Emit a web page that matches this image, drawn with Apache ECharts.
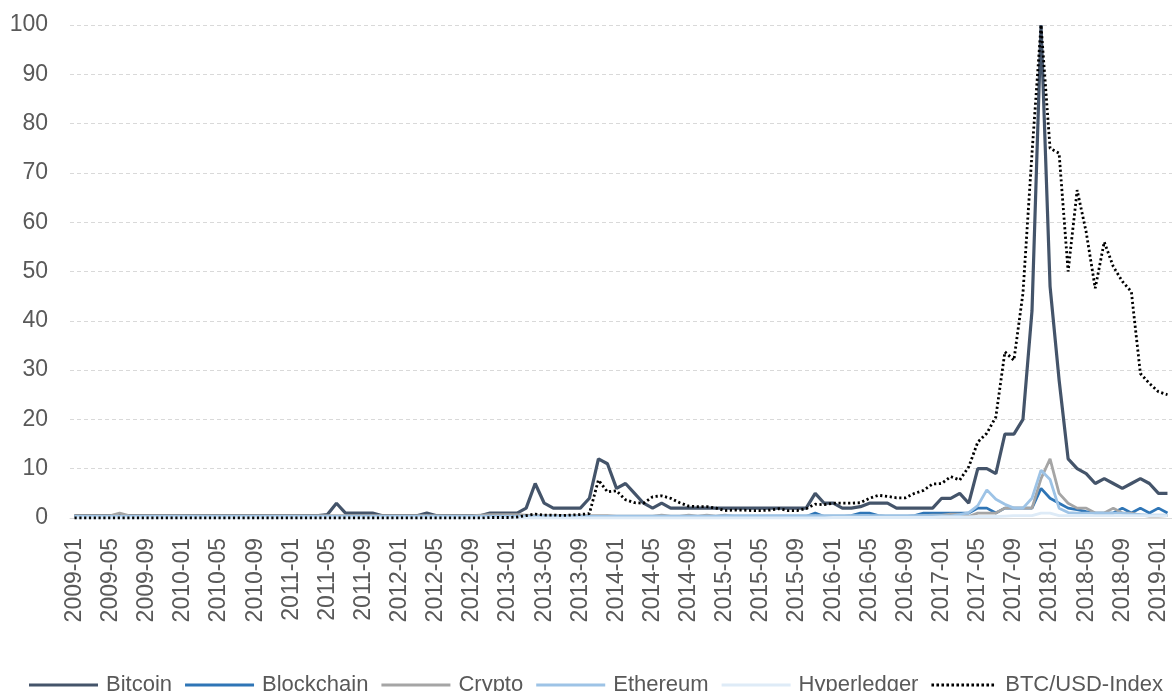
<!DOCTYPE html>
<html>
<head>
<meta charset="utf-8">
<script src="https://cdn.jsdelivr.net/npm/echarts@6/dist/echarts.min.js"></script>
<style>
html,body{margin:0;padding:0;background:#fff;}
#chart{width:1172px;height:691px;}
</style>
</head>
<body>
<div id="chart"></div>
<script>
// Months 2009-01 .. 2019-02 (122 categories)
const startYear = 2009, monthCount = 122;
const months = [];
for (let i = 0; i < monthCount; i++) {
  const y = startYear + Math.floor(i / 12), m = (i % 12) + 1;
  months.push(y + '-' + (m < 10 ? '0' + m : m));
}

const seriesNames = ['Bitcoin', 'Blockchain', 'Crypto', 'Ethereum', 'Hyperledger', 'BTC/USD-Index'];

const bitcoin = [
  0.5,0.5,0.5,0.5,0.5,0.5,0.5,0.5,0.5,0.5,0.5,0.5,   // 2009
  0.5,0.5,0.5,0.5,0.5,0.5,0.5,0.5,0.5,0.5,0.5,0.5,   // 2010
  0.5,0.5,0.5,0.5,0.7,3,1,1,1,1,0.5,0.5,             // 2011
  0.5,0.5,0.5,1,0.5,0.5,0.5,0.5,0.5,0.5,1,1,         // 2012
  1,1,2,7,3,2,2,2,2,4,12,11,                         // 2013
  6,7,5,3,2,3,2,2,2,2,2,2,                           // 2014
  2,2,2,2,2,2,2,2,2,2,5,3,                           // 2015
  3,2,2,2.3,3,3,3,2,2,2,2,2,                         // 2016
  4,4,5,3,10,10,9,17,17,20,42,100,                   // 2017
  47,28,12,10,9,7,8,7,6,7,8,7,                       // 2018
  5,5                                                // 2019
];

const blockchain = [
  0.3,0.3,0.3,0.3,0.3,0.3,0.3,0.3,0.3,0.3,0.3,0.3,
  0.3,0.3,0.3,0.3,0.3,0.3,0.3,0.3,0.3,0.3,0.3,0.3,
  0.3,0.3,0.3,0.3,0.3,0.3,0.3,0.3,0.3,0.3,0.3,0.3,
  0.3,0.3,0.3,0.3,0.3,0.3,0.3,0.3,0.3,0.3,0.3,0.3,
  0.3,0.3,0.3,0.3,0.3,0.3,0.3,0.3,0.3,0.3,0.3,0.3,
  0.3,0.3,0.3,0.3,0.3,0.3,0.3,0.3,0.3,0.3,0.3,0.3,
  0.3,0.3,0.3,0.3,0.3,0.3,0.3,0.3,0.3,0.3,1,0.3,
  0.3,0.3,0.5,1,1,0.5,0.3,0.3,0.3,0.5,1,1,
  1,1,1,1,2,2,1,2,2,2,2,6,
  4,3,2,1.7,1.3,1,1,1,2,1,2,1,
  2,1
];

const crypto = [
  0.5,0.5,0.5,0.5,0.5,1,0.5,0.5,0.5,0.5,0.5,0.5,
  0.5,0.5,0.5,0.5,0.5,0.5,0.5,0.5,0.5,0.5,0.5,0.5,
  0.5,0.5,0.5,0.5,0.5,0.5,0.5,0.5,0.5,0.5,0.5,0.5,
  0.5,0.5,0.5,0.5,0.5,0.5,0.5,0.5,0.5,0.6,0.7,0.7,
  0.7,0.7,0.6,0.5,0.5,0.5,0.5,0.5,0.5,0.5,0.5,0.5,
  0.4,0.4,0.4,0.4,0.4,0.6,0.4,0.4,0.6,0.4,0.6,0.4,
  0.6,0.4,0.4,0.4,0.4,0.4,0.4,0.4,0.4,0.4,0.4,0.4,
  0.4,0.4,0.4,0.4,0.4,0.4,0.4,0.4,0.4,0.4,0.5,0.6,
  0.6,0.8,0.8,0.3,1,1,1,2,2,2,2,8,
  12,5,3,2,2,1,1,2,1,1,0.6,0.4,
  0.4,0.5
];

const ethereum = [
  0.3,0.3,0.3,0.3,0.3,0.3,0.3,0.3,0.3,0.3,0.3,0.3,
  0.3,0.3,0.3,0.3,0.3,0.3,0.3,0.3,0.3,0.3,0.3,0.3,
  0.3,0.3,0.3,0.3,0.3,0.3,0.3,0.3,0.3,0.3,0.3,0.3,
  0.3,0.3,0.3,0.3,0.3,0.3,0.3,0.3,0.3,0.3,0.3,0.3,
  0.3,0.3,0.3,0.3,0.3,0.3,0.3,0.3,0.3,0.3,0.3,0.3,
  0.4,0.4,0.4,0.4,0.4,0.4,0.4,0.4,0.4,0.4,0.4,0.4,
  0.5,0.5,0.5,0.5,0.5,0.5,0.5,0.5,0.5,0.5,0.5,0.5,
  0.5,0.5,0.5,0.5,0.5,0.5,0.5,0.5,0.5,0.5,0.5,0.5,
  0.5,0.4,0.7,1.1,2.5,5.7,3.8,2.8,2,2,4,9.7,
  7.8,2,1.1,1,1,1,1,1,1,0.8,0.7,0.6,
  0.6,0.6
];

const hyperledger = [
  0,0,0,0,0,0,0,0,0,0,0,0,
  0,0,0,0,0,0,0,0,0,0,0,0,
  0,0,0,0,0,0,0,0,0,0,0,0,
  0,0,0,0,0,0,0,0,0,0,0,0,
  0,0,0,0,0,0,0,0,0,0,0,0,
  0,0,0,0,0,0,0,0,0,0,0,0,
  0,0,0,0,0,0,0,0,0,0,0,0,
  0.1,0.1,0.1,0.1,0.1,0.1,0.1,0.1,0.1,0.1,0.1,0.1,
  0.2,0.2,0.2,0.2,0.3,0.3,0.3,0.4,0.5,0.5,0.5,1,
  1,0.5,0.5,0.5,0.5,0.5,0.5,0.5,0.5,0.5,0.5,0.5,
  0.5,0.5
];

const btcUsd = [
  0,0,0,0,0,0,0,0,0,0,0,0,
  0,0,0,0,0,0,0,0,0,0,0,0,
  0,0,0,0,0,0,0,0,0,0,0,0,
  0,0,0,0,0,0,0,0,0,0,0.1,0.1,
  0.1,0.2,0.5,0.8,0.6,0.6,0.5,0.6,0.7,0.9,7.7,5.3,
  5.5,3.7,3.1,3.0,4.3,4.5,4.0,3.1,2.4,2.3,2.3,2.0,
  1.5,1.6,1.6,1.5,1.5,1.6,1.9,1.5,1.5,1.9,2.8,2.7,
  3.0,3.0,3.0,3.1,4.0,4.6,4.4,4.1,4.1,5.0,5.6,6.9,
  7.0,8.4,7.7,10.4,15.4,17.2,20.5,33.7,32,45.6,74,100,
  75,74,50,66.5,58,46.6,56,51,48,45.9,29.3,27.3,
  25.6,25
];

const yTicks = { min: 0, max: 100, step: 10 };

const FONT = 'Liberation Sans';
const TXT = '#595959';

const chart = echarts.init(document.getElementById('chart'), null, { renderer: 'canvas' });

function lineSeries(name, data, color, width, type, z) {
  return {
    name: name, type: 'line', data: data, symbol: 'none', showSymbol: false,
    smooth: false, z: z,
    lineStyle: { color: color, width: width, type: type || 'solid', cap: 'butt' },
    itemStyle: { color: color },
    emphasis: { disabled: true }
  };
}

const dotIcon = (function () {
  let p = 'path://';
  for (let i = 0; i < 13; i++) p += 'M' + (i * 5) + ',0h2.6v3h-2.6z';
  return p;
})();

chart.setOption({
  animation: false,
  backgroundColor: '#ffffff',
  textStyle: { fontFamily: FONT, fontSize: 23, color: TXT },
  grid: { left: 70, right: 0, top: 25, bottom: 173, containLabel: false, outerBoundsMode: 'none' },
  legend: {
    left: 24, right: -40, top: 669,
    itemWidth: 69, itemHeight: 3, itemGap: 13,
    itemStyle: { borderWidth: 0 },
    textStyle: { fontFamily: FONT, fontSize: 22, color: TXT, padding: [0, 0, 0, 3] },
    data: [
      { name: seriesNames[0], icon: 'rect' },
      { name: seriesNames[1], icon: 'rect' },
      { name: seriesNames[2], icon: 'rect' },
      { name: seriesNames[3], icon: 'rect' },
      { name: seriesNames[4], icon: 'rect' },
      { name: seriesNames[5], icon: dotIcon }
    ]
  },
  xAxis: {
    type: 'category', data: months, boundaryGap: true,
    axisTick: { show: false },
    axisLine: { show: true, lineStyle: { color: '#d9d9d9', width: 1 } },
    axisLabel: { rotate: 90, interval: 3, margin: 20, fontFamily: FONT, fontSize: 23, color: TXT,
                 hideOverlap: false, showMinLabel: true }
  },
  yAxis: {
    type: 'value', min: yTicks.min, max: yTicks.max, interval: yTicks.step,
    axisLine: { show: false }, axisTick: { show: false },
    axisLabel: { margin: 22, fontFamily: FONT, fontSize: 23, color: TXT },
    splitLine: { show: true, lineStyle: { color: '#d9d9d9', width: 1, type: [4, 3] } }
  },
  series: [
    lineSeries(seriesNames[0], bitcoin, '#44546a', 3.2, null, 2),
    lineSeries(seriesNames[1], blockchain, '#2e75b6', 2.8, null, 3),
    lineSeries(seriesNames[2], crypto, '#a5a5a5', 2.8, null, 4),
    lineSeries(seriesNames[3], ethereum, '#9dc3e6', 2.8, null, 5),
    lineSeries(seriesNames[4], hyperledger, '#deebf7', 2.8, null, 6),
    lineSeries(seriesNames[5], btcUsd, '#000000', 2.8, [2.2, 2.6], 7)
  ]
});
</script>
</body>
</html>
